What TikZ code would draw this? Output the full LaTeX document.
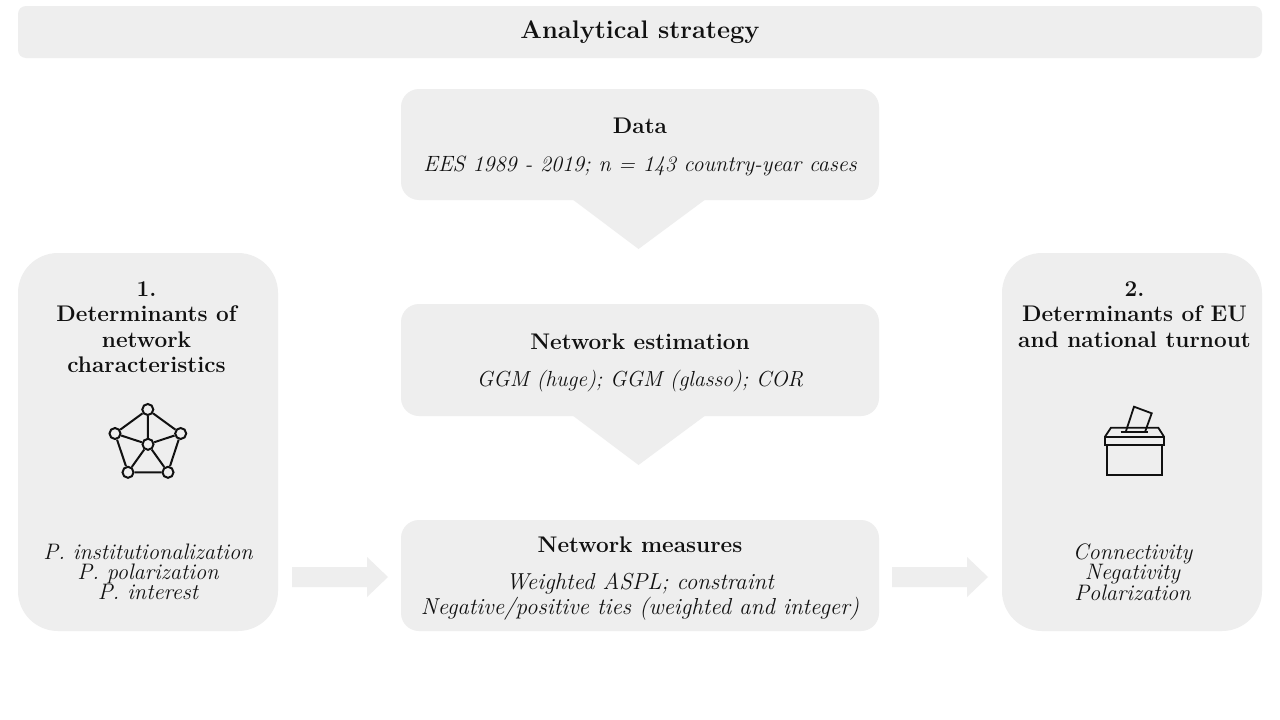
\documentclass[tikz,border=0pt]{standalone}
\usetikzlibrary{calc}
\definecolor{panel}{HTML}{EEEEEE}
\definecolor{ink}{HTML}{111111}
\newcommand{\headfont}{\fontsize{22.6}{25.6}\selectfont\bfseries}
\newcommand{\bodyfont}{\fontsize{22.4}{20.3}\selectfont\itshape}
\newcommand{\measfont}{\fontsize{23.1}{24.8}\selectfont\itshape}
\tikzset{
  x=1pt,y=-1pt,
  panelfill/.style={fill=panel,draw=none},
  head/.style={text=ink,align=center,inner sep=0pt,font=\headfont},
  body/.style={text=ink,align=center,inner sep=0pt,font=\bodyfont},
  vertex/.style={circle,draw=ink,fill=panel,line width=2pt,minimum size=11pt,inner sep=0pt},
  tie/.style={draw=ink,line width=2pt},
  icon/.style={draw=ink,line width=1.8pt,line join=miter},
}
\begin{document}
\begin{tikzpicture}
\useasboundingbox (0,0) rectangle (1280,720);
\fill[white] (0,0) rectangle (1280,720);
% panels
\fill[panelfill,rounded corners=8pt] (18,6) rectangle (1262,58);
\fill[panelfill,rounded corners=40pt] (18,253) rectangle (278,631);
\fill[panelfill,rounded corners=40pt] (1002,253) rectangle (1262,631);
\fill[panelfill,rounded corners=18pt] (401,89) rectangle (879,200);
\fill[panelfill,rounded corners=18pt] (401,304) rectangle (879,416);
\fill[panelfill,rounded corners=18pt] (401,520) rectangle (879,631);
% pointers
\fill[panelfill] (572,199) -- (638.5,249) -- (706,199) -- cycle;
\fill[panelfill] (572,415) -- (638.5,465) -- (706,415) -- cycle;
% block arrows
\fill[panelfill] (292,567) -- (367,567) -- (367,557) -- (388,577) -- (367,597) -- (367,587) -- (292,587) -- cycle;
\fill[panelfill] (892,567) -- (967,567) -- (967,557) -- (988,577) -- (967,597) -- (967,587) -- (892,587) -- cycle;
% text
\node[head] (title) at (640,32.5) {\fontsize{25.4}{28}\selectfont Analytical strategy};
\node[head] (data) at (640,125.5) {Data};
\node[body] (datab) at (640,165.5) {\fontsize{22.1}{24}\selectfont EES 1989 - 2019; n = 143 country-year cases};
\node[head] (est) at (640,342) {Network estimation};
\node[body] (estb) at (640,381.5) {\fontsize{21.8}{24}\selectfont GGM (huge); GGM (glasso); COR};
\node[head] (meas) at (640,544.5) {Network measures};
\node[body,font=\measfont] (measb) at (640,597) {Weighted ASPL; constraint\\Negative/positive ties (weighted and integer)};
\node[head,anchor=north] (lh) at (146.5,281) {1.\\Determinants of\\network\\characteristics};
\node[head,anchor=north] (rh) at (1134.5,281) {2.\\Determinants of EU\\and national turnout};
\node[body] (lb) at (148,572) {P. institutionalization\\P. polarization\\P. interest};
\node[body] (rb) at (1132.5,572) {Connectivity\\Negativity\\Polarization};
% network icon
\node[vertex] (vt) at (147.8,409.5) {};
\node[vertex] (vl) at (115,433.5) {};
\node[vertex] (vr) at (180.7,433.5) {};
\node[vertex] (vc) at (148,444.3) {};
\node[vertex] (va) at (128,472.3) {};
\node[vertex] (vb) at (168,472.3) {};
\draw[tie] (vt)--(vl) (vt)--(vr) (vt)--(vc) (vl)--(vc) (vr)--(vc) (vl)--(va) (vr)--(vb) (vc)--(va) (vc)--(vb) (va)--(vb);
% ballot box icon
\draw[icon] (1125.7,432) -- (1134,406.7) -- (1151.7,413.3) -- (1145,432);
\draw[icon] (1120.7,432.3) -- (1148.3,432.3);
\draw[icon] (1105,445) -- (1105,436.7) -- (1111,427.7) -- (1158.3,427.7) -- (1164,436.7) -- (1164,445) -- cycle;
\draw[icon] (1105,436.7) -- (1164,436.7);
\draw[icon] (1106.7,445) -- (1106.7,475) -- (1162.3,475) -- (1162.3,445);
\end{tikzpicture}
\end{document}
